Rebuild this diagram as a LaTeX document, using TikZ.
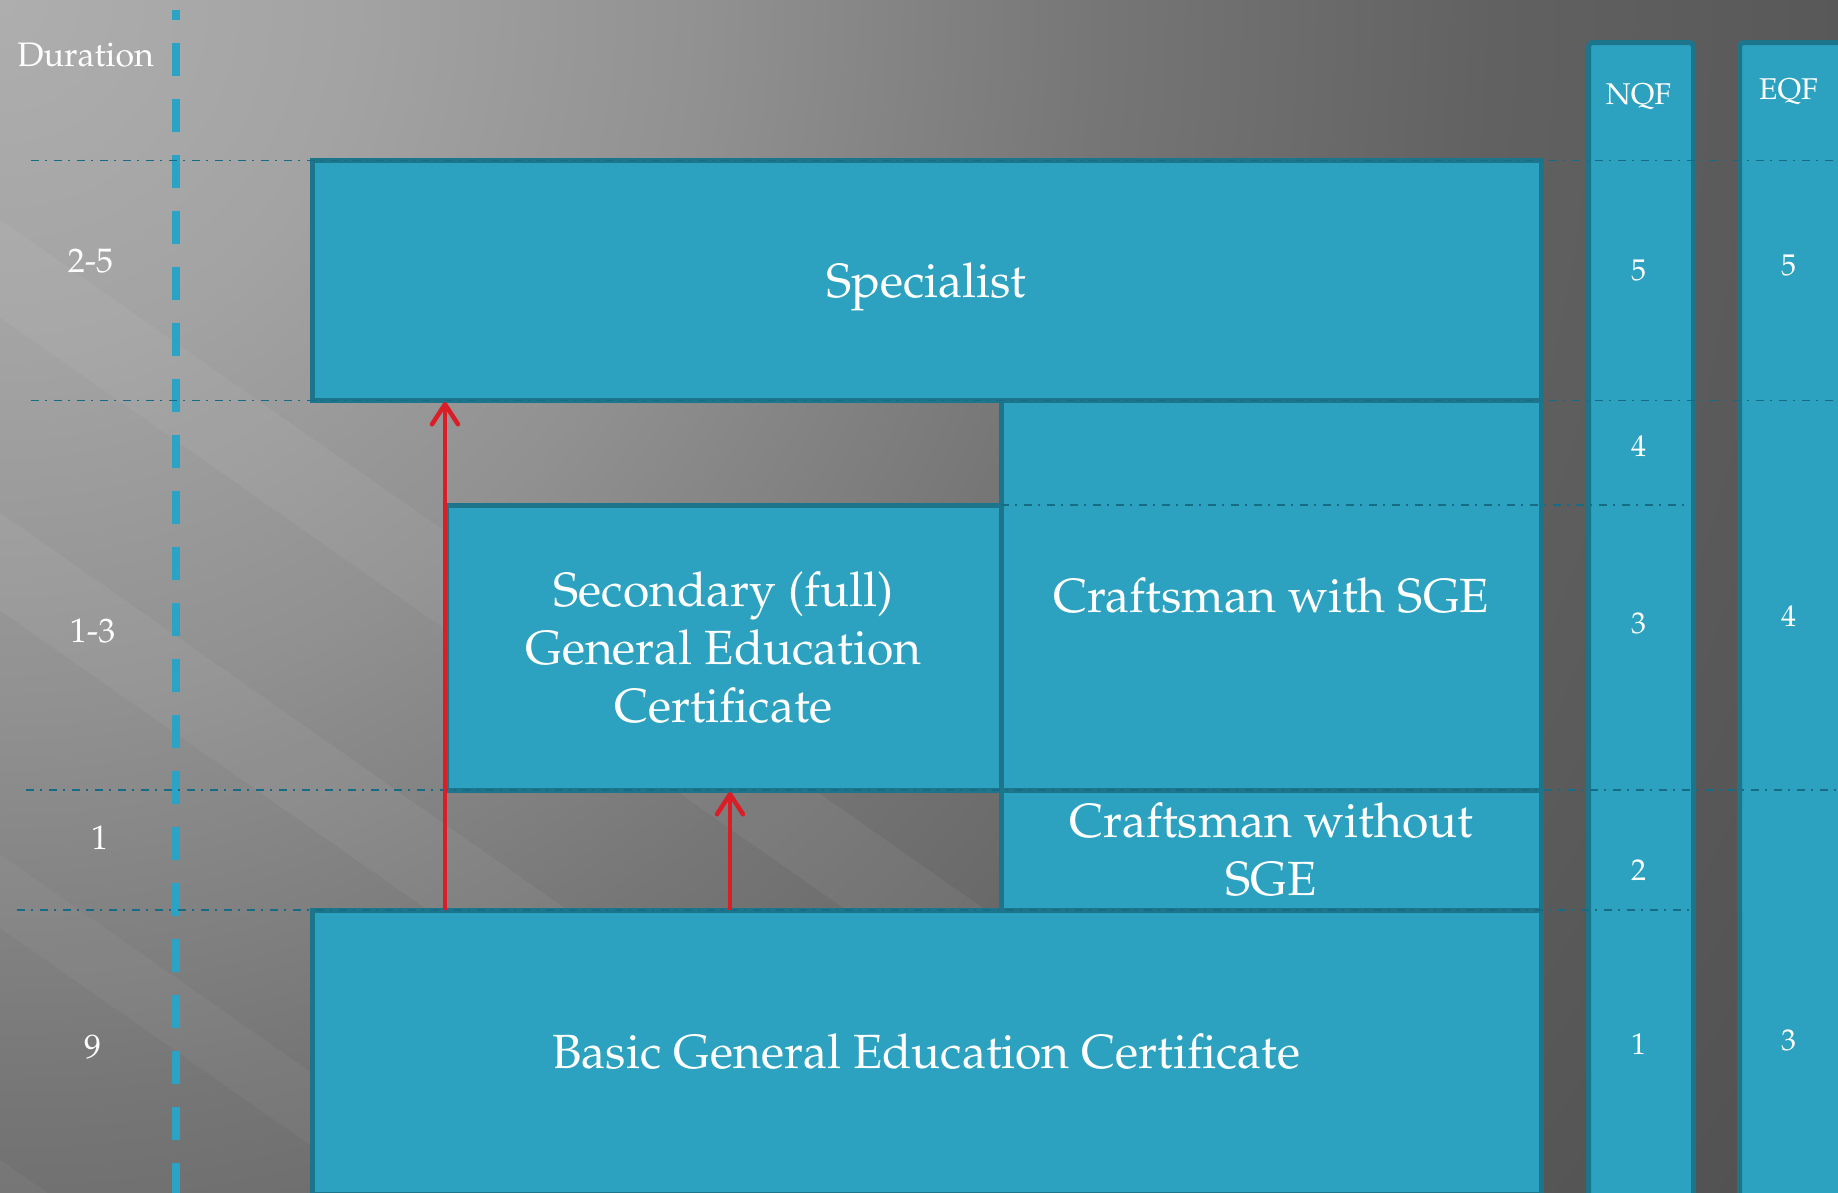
\documentclass[tikz,border=0pt]{standalone}
\usepackage[T1]{fontenc}
\renewcommand{\rmdefault}{ppl}
\usetikzlibrary{arrows.meta}
\definecolor{boxfill}{RGB}{44,162,192}
\definecolor{boxline}{RGB}{29,117,140}
\definecolor{dashteal}{RGB}{43,163,196}
\definecolor{gridteal}{RGB}{22,108,132}
\definecolor{arrowred}{RGB}{218,30,40}
\definecolor{bgA}{RGB}{174,174,174}
\definecolor{bgB}{RGB}{163,163,163}
\definecolor{bgC}{RGB}{145,145,145}
\definecolor{bgD}{RGB}{118,118,118}
\definecolor{bgE}{RGB}{97,97,97}
\definecolor{bgF}{RGB}{88,88,88}
\definecolor{bgG}{RGB}{80,80,80}
\pgfdeclareradialshading{bgrad}{\pgfpoint{0bp}{0bp}}{color(0bp)=(bgA); color(4bp)=(bgB); color(8bp)=(bgC); color(12.5bp)=(bgD); color(17bp)=(bgE); color(21bp)=(bgF); color(25bp)=(bgG); color(50bp)=(bgG)}
\newcommand{\myBig}{\fontsize{48}{58}\selectfont}
\newcommand{\myLbl}{\fontsize{34}{40}\selectfont}
\newcommand{\myQ}{\fontsize{30}{36}\selectfont}
\begin{document}
\begin{tikzpicture}[x=1pt,y=-1pt,
  box/.style={draw=boxline, fill=boxfill, line width=5pt, text=white, font=\myBig, align=center, inner sep=0pt},
  col/.style={draw=boxline, fill=boxfill, line width=5pt, rounded corners=4pt, inner sep=0pt},
  lbl/.style={text=white, font=\myLbl, inner sep=0pt},
  qlbl/.style={text=white, font=\myQ, inner sep=0pt},
  gridline/.style={draw=gridteal, line width=1.8pt, dash pattern=on 8pt off 6pt on 2pt off 7pt},
  vdash/.style={draw=dashteal, line width=7.5pt, dash pattern=on 33pt off 23pt, dash phase=23pt},
  uparrow/.style={draw=arrowred, line width=4.5pt, -{Straight Barb[length=20pt,width=26pt,line cap=round,line join=round]}}
]
\useasboundingbox (0,0) rectangle (1838,1192);
\begin{scope}
\clip (0,0) rectangle (1838,1192);
% background
\shade[shading=bgrad] (0,0) circle (2200);
\begin{scope}[rotate around={-35:(0,0)}]
\fill[white, opacity=0.05] (-300,180) rectangle (2600,260);
\fill[white, opacity=0.05] (-300,420) rectangle (2600,500);
\fill[white, opacity=0.04] (-300,700) rectangle (2600,760);
\fill[white, opacity=0.04] (-300,950) rectangle (2600,1010);
\end{scope}

% vertical dashed axis
\coordinate (vtop) at (176,10);
\coordinate (vbot) at (176,1200);
\draw[vdash] (vtop) -- (vbot);

% NQF / EQF columns
\node[col, minimum width=105pt, minimum height=1200pt, anchor=north west] (nqf) at (1586,40) {};
\node[col, minimum width=200pt, minimum height=1200pt, anchor=north west] (eqf) at (1737,40) {};

% main boxes
\node[box, minimum width=1229pt, minimum height=240pt, text depth=0pt] (spec) at (926.5,280.5) {Specialist};
\node[box, minimum width=540pt, minimum height=389.5pt] (cws) at (1271,595.25) {Craftsman with SGE};
\node[box, minimum width=555pt, minimum height=285pt] (sec) at (723.5,647.5) {Secondary (full)\\General Education\\Certificate};
\node[box, minimum width=540pt, minimum height=120pt] (cwo) at (1271,850) {Craftsman without\\SGE};
\node[box, minimum width=1229pt, minimum height=284pt] (basic) at (926.5,1052) {Basic General Education Certificate};

% dash-dot level lines
\coordinate (g1a) at (31,160.5);  \coordinate (g1b) at (1838,160.5);
\coordinate (g2a) at (31,400.5);  \coordinate (g2b) at (1838,400.5);
\coordinate (g3a) at (1001,505);  \coordinate (g3b) at (1691,505);
\coordinate (g4a) at (26,790);    \coordinate (g4b) at (1838,790);
\coordinate (g5a) at (17,910);    \coordinate (g5b) at (1691,910);
\draw[gridline] (g1a) -- (g1b);
\draw[gridline] (g2a) -- (g2b);
\draw[gridline] (g3a) -- (g3b);
\draw[gridline] (g4a) -- (g4b);
\draw[gridline] (g5a) -- (g5b);

% red arrows
\coordinate (ar1s) at (445,910); \coordinate (ar1e) at (445,402);
\coordinate (ar2s) at (730,910); \coordinate (ar2e) at (730,792);
\draw[uparrow] (ar1s) -- (ar1e);
\draw[uparrow] (ar2s) -- (ar2e);

% duration labels
\node[lbl] (dur) at (85.6,55) {Duration};
\node[lbl] (d25) at (90.5,261) {2-5};
\node[lbl] (d13) at (92.6,630.6) {1-3};
\node[lbl] (d1) at (99.6,837.5) {1};
\node[lbl] (d9) at (92.6,1047.5) {9};

% NQF labels
\node[qlbl, anchor=base] (nqfh) at (1638.5,104) {NQF};
\node[qlbl] (n5) at (1638.5,270) {5};
\node[qlbl] (n4) at (1638.5,446.6) {4};
\node[qlbl] (n3) at (1638.5,623.7) {3};
\node[qlbl] (n2) at (1638.5,870) {2};
\node[qlbl] (n1) at (1638.5,1044) {1};

% EQF labels
\node[qlbl, anchor=base] (eqfh) at (1788.5,99) {EQF};
\node[qlbl] (e5) at (1788.5,265.5) {5};
\node[qlbl] (e4) at (1788.5,616.6) {4};
\node[qlbl] (e3) at (1788.5,1040) {3};
\end{scope}
\end{tikzpicture}
\end{document}
